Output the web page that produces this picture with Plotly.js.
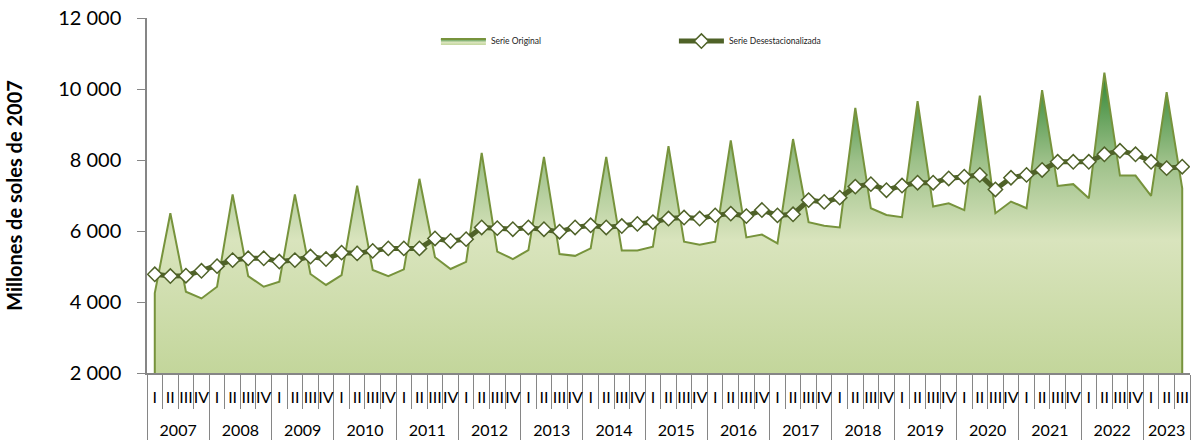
<!DOCTYPE html>
<html>
<head>
<meta charset="utf-8">
<script src="https://cdn.plot.ly/plotly-3.0.1.min.js"></script>
<style>
  html, body { margin: 0; padding: 0; background: #fff; }
  #grafica { width: 1192px; height: 441px; }
</style>
</head>
<body>
<div id="grafica"></div>
<script>
// categorias: años y trimestres (2023 llega hasta el III trimestre)
var anios = ["2007","2008","2009","2010","2011","2012","2013","2014","2015",
             "2016","2017","2018","2019","2020","2021","2022","2023"];
var trimestres = ["I","II","III","IV"];
var trimestresUltimoAnio = 3;

// Serie original (millones de soles de 2007)
var serieOriginal = [
    4250, 6500, 4290, 4100,
    4430, 7030, 4730, 4430,
    4570, 7030, 4790, 4480,
    4760, 7280, 4900, 4730,
    4920, 7470, 5260, 4930,
    5130, 8200, 5420, 5210,
    5460, 8090, 5350, 5300,
    5510, 8090, 5450, 5450,
    5560, 8390, 5700, 5610,
    5700, 8550, 5820, 5900,
    5650, 8590, 6250, 6150,
    6100, 9470, 6640, 6450,
    6390, 9660, 6690, 6780,
    6590, 9810, 6500, 6830,
    6640, 9970, 7270, 7320,
    6920, 10460, 7560, 7560,
    6990, 9910, 7200
];

// Serie desestacionalizada
var serieDesest = [
    4780, 4730, 4740, 4880,
    5010, 5180, 5230, 5230,
    5140, 5180, 5280, 5210,
    5390, 5370, 5440, 5510,
    5510, 5510, 5790, 5720,
    5770, 6100, 6080, 6050,
    6100, 6050, 5980, 6100,
    6160, 6100, 6140, 6200,
    6250, 6350, 6380, 6350,
    6440, 6490, 6420, 6590,
    6440, 6470, 6870, 6820,
    6940, 7250, 7320, 7150,
    7280, 7360, 7360, 7480,
    7530, 7580, 7170, 7500,
    7580, 7720, 7950, 7950,
    7950, 8160, 8260, 8160,
    7950, 7770, 7810
];

var yMin = 2000, yMax = 12000;

// armar ejes multicategoria (el <br> baja la fila de años)
var ejeAnio = [], ejeTrim = [];
anios.forEach(function(a, i) {
    var n = (i == anios.length - 1) ? trimestresUltimoAnio : 4;
    for (var q = 0; q < n; q++) {
        ejeAnio.push("<br>" + a);
        ejeTrim.push(trimestres[q]);
    }
});
var nPer = ejeAnio.length;

// el area de Excel baja en vertical hasta el eje en los extremos
var areaX = [
    [ejeAnio[0]].concat(ejeAnio, [ejeAnio[nPer - 1]]),
    [ejeTrim[0]].concat(ejeTrim, [ejeTrim[nPer - 1]])
];
var areaY = [yMin].concat(serieOriginal, [yMin]);

var gris = "#868686";
var fuente = "Lato, 'Open Sans', sans-serif";

var data = [{
    x: areaX,
    y: areaY,
    type: "scatter",
    mode: "lines",
    name: "Serie Original",
    fill: "tozeroy",
    fillgradient: {
        type: "vertical",
        start: yMin,
        stop: 10500,
        colorscale: [
            [0, "#c3d69b"],
            [0.44, "#d9e4bd"],
            [0.7, "#9ec18a"],
            [1, "#2e8431"]
        ]
    },
    line: { color: "#77933c", width: 2 },
    hoverinfo: "skip"
}, {
    x: [ejeAnio, ejeTrim],
    y: serieDesest,
    type: "scatter",
    mode: "lines+markers",
    name: "Serie Desestacionalizada",
    line: { color: "#4f6228", width: 5 },
    marker: {
        symbol: "diamond",
        size: 11,
        color: "#ffffff",
        line: { color: "#4f6228", width: 1.5 }
    }
}];

var layout = {
    width: 1192,
    height: 441,
    margin: { l: 147, r: 2, t: 18, b: 68 },
    paper_bgcolor: "#fff",
    plot_bgcolor: "rgba(0,0,0,0)",
    separators: ", ",
    font: { family: fuente, color: "#000", size: 16 },
    showlegend: true,
    legend: {
        orientation: "h",
        x: 0.277,
        y: 0.935,
        xanchor: "left",
        yanchor: "middle",
        font: { size: 8.5, family: fuente, color: "#222" },
        itemwidth: 45,
        entrywidth: 178,
        bgcolor: "rgba(0,0,0,0)"
    },
    xaxis: {
        type: "multicategory",
        range: [-0.5, nPer - 0.5],
        nticks: 200,
        showline: true,
        linecolor: gris,
        linewidth: 1.5,
        ticks: "outside",
        ticklen: 34,
        tickwidth: 1,
        tickcolor: gris,
        tickangle: 0,
        ticklabelstandoff: 9,
        tickfont: { size: 16 },
        dividercolor: gris,
        dividerwidth: 1,
        showgrid: false,
        zeroline: false
    },
    yaxis: {
        range: [yMin, yMax],
        dtick: 2000,
        tickformat: ",d",
        showline: true,
        linecolor: gris,
        linewidth: 1.5,
        ticks: "outside",
        ticklen: 8,
        tickcolor: gris,
        tickfont: { size: 20 },
        ticklabelstandoff: 12,
        showgrid: false,
        zeroline: false,
        title: {
            text: "<b>Millones de soles de 2007</b>",
            font: { size: 20 },
            standoff: 30
        }
    }
};

Plotly.newPlot("grafica", data, layout, { displayModeBar: false });
</script>
</body>
</html>
